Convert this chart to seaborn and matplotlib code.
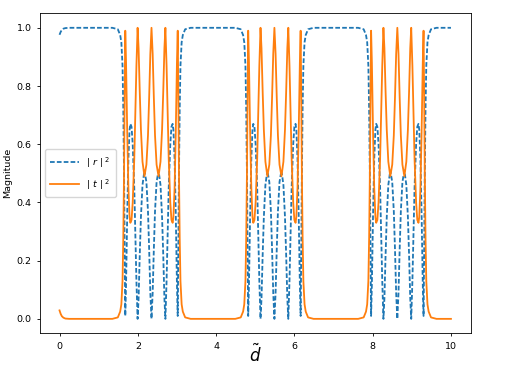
import matplotlib
matplotlib.use("Agg")
import matplotlib.pyplot as plt
import seaborn as sns

# ───────────── values ─────────────
# start of the sweep (tail of the band that lies left of d~ = 0)
start_d = [0.0, 0.03, 0.06, 0.10, 0.15, 0.25]
start_r = [0.976, 0.986, 0.993, 0.997, 0.999, 1.0]
start_t = [0.029, 0.017, 0.009, 0.004, 0.001, 0.0]

# centres of the three pass bands
band_centers = [2.35, 5.49, 8.63]

# shape of one pass band, offsets from its centre
band_dx = [-1.0, -0.86, -0.80, -0.77, -0.74, -0.72, -0.70, -0.685, -0.67, -0.65,
           -0.62, -0.59, -0.56, -0.54, -0.51, -0.48, -0.44, -0.41, -0.385, -0.355,
           -0.33, -0.30, -0.27, -0.23, -0.18, -0.13, -0.09, -0.06, -0.03, 0.0,
           0.03, 0.06, 0.09, 0.13, 0.18, 0.23, 0.27, 0.30, 0.33, 0.355,
           0.385, 0.41, 0.44, 0.48, 0.51, 0.54, 0.56, 0.59, 0.62, 0.65,
           0.67, 0.685, 0.70, 0.72, 0.74, 0.77, 0.80, 0.86, 1.0]
band_r = [1.0, 0.995, 0.975, 0.95, 0.87, 0.72, 0.48, 0.22, 0.01, 0.12,
          0.36, 0.55, 0.65, 0.67, 0.66, 0.60, 0.45, 0.28, 0.13, 0.0,
          0.07, 0.22, 0.35, 0.46, 0.51, 0.47, 0.37, 0.24, 0.09, 0.0,
          0.09, 0.24, 0.37, 0.47, 0.51, 0.46, 0.35, 0.22, 0.07, 0.0,
          0.13, 0.28, 0.45, 0.60, 0.66, 0.67, 0.65, 0.55, 0.36, 0.12,
          0.01, 0.22, 0.48, 0.72, 0.87, 0.95, 0.975, 0.995, 1.0]
band_t = [0.0, 0.005, 0.025, 0.05, 0.13, 0.28, 0.52, 0.78, 0.99, 0.88,
          0.64, 0.45, 0.35, 0.33, 0.34, 0.40, 0.55, 0.72, 0.87, 1.0,
          0.93, 0.78, 0.65, 0.54, 0.49, 0.53, 0.63, 0.76, 0.91, 1.0,
          0.91, 0.76, 0.63, 0.53, 0.49, 0.54, 0.65, 0.78, 0.93, 1.0,
          0.87, 0.72, 0.55, 0.40, 0.34, 0.33, 0.35, 0.45, 0.64, 0.88,
          0.99, 0.78, 0.52, 0.28, 0.13, 0.05, 0.025, 0.005, 0.0]

end_d = [10.0]
end_r = [1.0]
end_t = [0.0]

# ───────────── assemble the sweep ─────────────
d = start_d + [c + dx for c in band_centers for dx in band_dx] + end_d
r2 = start_r + band_r * len(band_centers) + end_r
t2 = start_t + band_t * len(band_centers) + end_t

# ───────────── plot ─────────────
plt.rcParams['font.size'] = 6.8
plt.rcParams['axes.linewidth'] = 0.6
plt.rcParams['xtick.major.width'] = 0.6
plt.rcParams['ytick.major.width'] = 0.6
plt.rcParams['xtick.major.size'] = 2.4
plt.rcParams['ytick.major.size'] = 2.4

fig, ax = plt.subplots(figsize=(5.12, 3.68), dpi=100)
fig.subplots_adjust(left=0.078, right=0.919, top=0.964, bottom=0.094)

sns.lineplot(x=d, y=r2, ax=ax, color='#1f77b4', lw=1.3, dashes=False,
             linestyle=(0, (2.6, 1.2)), label=r'$|\ r\ |^{\ 2}$')
sns.lineplot(x=d, y=t2, ax=ax, color='#ff7f0e', lw=1.3,
             label=r'$|\ t\ |^{\ 2}$')

ax.set_xlabel(r'$\tilde{d}$', fontsize=12, labelpad=-5)
ax.set_ylabel('Magnitude', labelpad=3)
ax.set_xticks([0, 2, 4, 6, 8, 10])
ax.legend(loc='center left', handlelength=3.0, borderpad=0.6, labelspacing=0.8)

fig.savefig('out.png', dpi=100)
